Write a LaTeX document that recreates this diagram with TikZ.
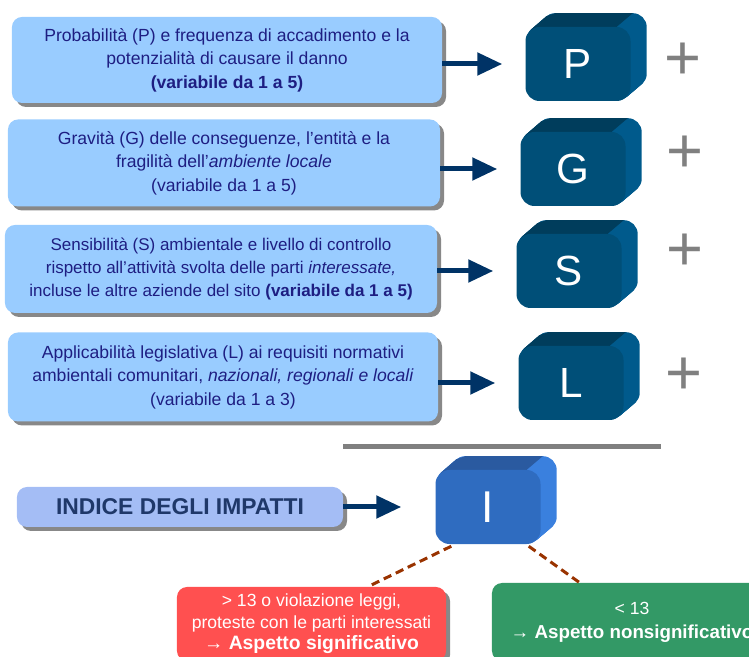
\documentclass[tikz,border=0pt]{standalone}
\usepackage{fontspec}
\setmainfont{Liberation Sans}
\usetikzlibrary{arrows.meta,shadows,backgrounds,calc}

\definecolor{azzurro}{RGB}{153,204,255}
\definecolor{lilla}{RGB}{164,189,245}
\definecolor{testoblu}{RGB}{30,30,130}
\definecolor{blunotte}{RGB}{31,56,105}
\definecolor{blufreccia}{RGB}{0,51,102}
\definecolor{ombra}{RGB}{136,136,136}
\definecolor{grigio}{RGB}{128,128,128}
\definecolor{fronte}{RGB}{0,79,120}
\definecolor{lato}{RGB}{0,90,140}
\definecolor{sopra}{RGB}{0,61,92}
\definecolor{fronteI}{RGB}{47,108,192}
\definecolor{latoI}{RGB}{58,128,222}
\definecolor{sopraI}{RGB}{42,90,160}
\definecolor{rosso}{RGB}{255,80,80}
\definecolor{verde}{RGB}{51,153,102}
\definecolor{marrone}{RGB}{153,51,0}

\tikzset{
  riquadro/.style={fill=azzurro, rounded corners=0.3cm, text=testoblu, align=center, inner sep=0pt,
    font=\fontsize{15}{20}\selectfont,
    drop shadow={shadow xshift=0.12cm, shadow yshift=-0.12cm, fill=ombra, opacity=1}},
  blocco/.style={fill=fronte, rounded corners=0.42cm, minimum width=3.15cm, minimum height=2.22cm,
    text=white, font=\fontsize{36}{36}\selectfont, inner sep=0pt},
  freccia/.style={line width=0.15cm, blufreccia, -{Triangle[length=0.75cm,width=0.66cm]}},
  piu/.style={text=grigio, font=\fontsize{54}{54}\selectfont, inner sep=0pt},
  esito/.style={rounded corners=0.3cm, text=white, align=center, inner sep=0pt,
    font=\fontsize{15}{18.5}\selectfont,
    drop shadow={shadow xshift=0.12cm, shadow yshift=-0.12cm, fill=ombra, opacity=1}},
  tratteggio/.style={marrone, line width=0.09cm, dash pattern=on 0.25cm off 0.15cm}
}

\begin{document}
\begin{tikzpicture}[x=0.03cm, y=-0.03cm]
    \useasboundingbox (0,0) rectangle (749,657);

    % Riquadri di testo
    \node[riquadro, minimum width=12.9cm, minimum height=2.58cm] (tP) at (227,60)
        {Probabilità (P) e frequenza di accadimento e la\\ potenzialità di causare il danno\\ \textbf{(variabile da 1 a 5)}};
    \node[riquadro, minimum width=12.96cm, minimum height=2.61cm] (tG) at (224,163)
        {Gravità (G) delle conseguenze, l’entità e la\\ fragilità dell’\textit{ambiente locale}\\ (variabile da 1 a 5)};
    \node[riquadro, minimum width=12.96cm, minimum height=2.64cm, font=\fontsize{14.5}{19.5}\selectfont] (tS) at (221,269)
        {Sensibilità (S) ambientale e livello di controllo\\ rispetto all’attività svolta delle parti \textit{interessate,}\\ incluse le altre aziende del sito \textbf{(variabile da 1 a 5)}};
    \node[riquadro, minimum width=12.9cm, minimum height=2.67cm] (tL) at (223,377)
        {Applicabilità legislativa (L) ai requisiti normativi\\ ambientali comunitari, \textit{nazionali, regionali e locali}\\ (variabile da 1 a 3)};

    % Blocchi P, G, S, L
    \foreach \n/\x/\y in {P/578/64, G/573/169, S/569/271, L/571/383}
        \node[blocco] (\n) at (\x,\y) {\n};
    \node[blocco, fill=fronteI, font=\fontsize{38}{38}\selectfont] (I) at (488,507) {I};

    % Spessore dei blocchi (dietro)
    \begin{scope}[on background layer]
        \foreach \n/\cl/\ct in {P/lato/sopra, G/lato/sopra, S/lato/sopra, L/lato/sopra, I/latoI/sopraI}{
            \foreach \d in {1,...,16}
                \fill[\cl, rounded corners=0.42cm] ([shift={(\d,-0.85*\d)}]\n.south west) rectangle ([shift={(\d,-0.85*\d)}]\n.north east);
            \fill[\ct] ($(\n.north west)+(5,3.5)$) -- ($(\n.north west)+(21,-10.5)$) -- ($(\n.north west)+(30,-13.6)$)
                -- ($(\n.north east)+(2,-13.6)$) -- ($(\n.north east)+(-14,0)$) -- cycle;
        }
    \end{scope}

    % Frecce
    \foreach \n in {P,G,S,L}
        \draw[freccia, shorten >=0.69cm] (t\n.east |- \n.west) -- (\n.west);

    % Segni +
    \node[piu] (piuP) at (683,61) {+};
    \node[piu] (piuG) at (685,154) {+};
    \node[piu] (piuS) at (685,252) {+};
    \node[piu] (piuL) at (684,376) {+};

    % Linea di somma
    \draw[grigio, line width=0.15cm] (343,447) -- (661,447);

    % Indice
    \node[riquadro, fill=lilla, text=blunotte, minimum width=9.78cm, minimum height=1.2cm,
          font=\fontsize{19.5}{19.5}\selectfont\bfseries] (indice) at (180,507) {INDICE DEGLI IMPATTI};
    \draw[freccia, shorten >=1.02cm] (indice.east |- I.west) -- (I.west);

    % Esiti
    \node[esito, fill=rosso, minimum width=8.07cm, minimum height=2.22cm] (sign) at (311.5,624)
        {> 13 o violazione leggi,\\ proteste con le parti interessati\\
         {\fontsize{16.5}{18.5}\selectfont\bfseries → Aspetto significativo}};
    \node[esito, fill=verde, minimum width=8.4cm, minimum height=2.34cm] (nonsign) at (632,622)
        {< 13\\[2pt] {\fontsize{16}{18.5}\selectfont\bfseries → Aspetto nonsignificativo}};

    \draw[tratteggio] ($(I.south west)+(16,2)$) -- ($(sign.north west)+(191,0)$);
    \draw[tratteggio] ($(I.south east)+(-12,2)$) -- ($(nonsign.north west)+(88,0)$);
\end{tikzpicture}
\end{document}
